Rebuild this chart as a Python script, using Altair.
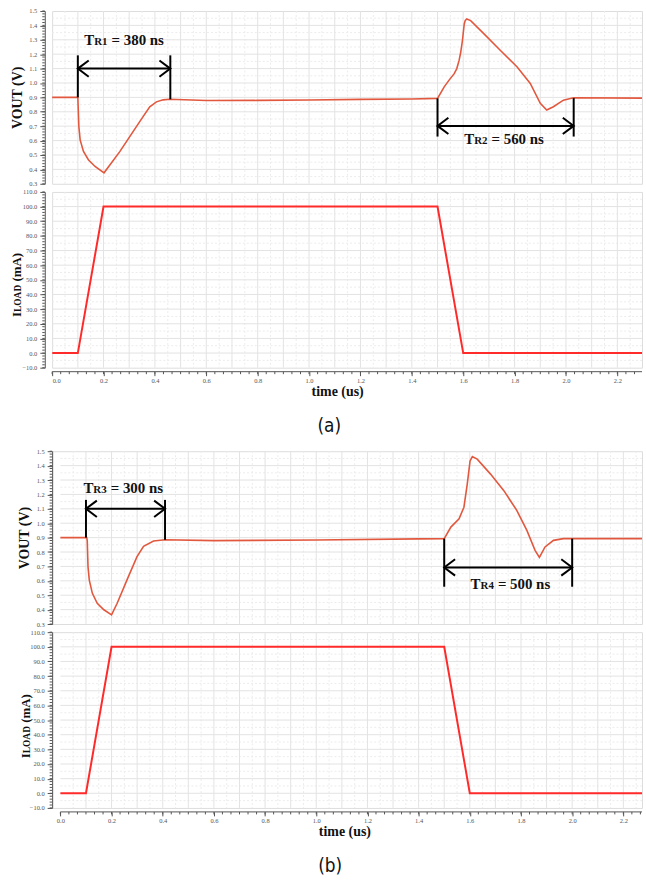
import altair as alt
import pandas as pd
import numpy as np

SERIF = "Liberation Serif"
VCOL = "#e2583e"
ICOL = "#ff2b2b"

# ---------------- data: (a) ----------------
va_t = [0.0, 0.1, 0.104, 0.109, 0.122, 0.141, 0.167, 0.202, 0.264, 0.315, 0.354, 0.380, 0.406,
        0.432, 0.457, 0.6, 0.8, 1.0, 1.2, 1.4, 1.5, 1.526, 1.545, 1.565, 1.575, 1.584, 1.590,
        1.597, 1.604, 1.608, 1.614, 1.629, 1.681, 1.745, 1.810, 1.861, 1.900, 1.925, 1.951,
        1.990, 2.029, 2.296]
va_v = [0.9, 0.9, 0.697, 0.605, 0.525, 0.467, 0.42, 0.376, 0.525, 0.662, 0.766, 0.835, 0.869,
        0.883, 0.887, 0.878, 0.879, 0.882, 0.886, 0.889, 0.893, 0.973, 1.02, 1.065, 1.10, 1.157, 1.21,
        1.295, 1.41, 1.435, 1.445, 1.433, 1.341, 1.226, 1.111, 0.997, 0.859, 0.812, 0.835,
        0.881, 0.897, 0.895]

# ---------------- data: (b) ----------------
vb_t = [0.0, 0.103, 0.105, 0.108, 0.113, 0.125, 0.144, 0.170, 0.200, 0.222, 0.260, 0.299, 0.325,
        0.364, 0.409, 0.6, 1.0, 1.4, 1.5, 1.526, 1.558, 1.577, 1.590, 1.601, 1.610, 1.629, 1.681,
        1.733, 1.784, 1.823, 1.855, 1.872, 1.894, 1.927, 1.966, 2.273]
vb_v = [0.9, 0.9, 0.88, 0.697, 0.605, 0.513, 0.444, 0.399, 0.364, 0.444, 0.605, 0.766, 0.839,
        0.876, 0.885, 0.879, 0.883, 0.891, 0.893, 0.973, 1.031, 1.111, 1.272, 1.433, 1.463, 1.445, 1.341,
        1.226, 1.088, 0.950, 0.812, 0.762, 0.835, 0.881, 0.893, 0.893]

# load current (same in both)
i_t = [0.0, 0.1, 0.2, 1.5, 1.6, 2.3]
i_ma = [0.0, 0.0, 100.0, 100.0, 0.0, 0.0]

# annotations: bar times, bar bases, bar tip V, arrow V, text position
ann_a = {"t1": [0.1, 1.5], "t2": [0.46, 2.03], "v0a": [0.9, 0.893], "v0b": [0.887, 0.895],
         "vtip": [1.192, 0.628], "varr": [1.1, 0.702], "tt": [0.125, 1.604], "vt": [1.266, 0.576],
         "sub": ["R1", "R2"], "rest": ["= 380 ns", "= 560 ns"]}
ann_b = {"t1": [0.1, 1.5], "t2": [0.409, 2.0], "v0a": [0.9, 0.893], "v0b": [0.885, 0.893],
         "vtip": [1.162, 0.559], "varr": [1.1, 0.693], "tt": [0.09, 1.603], "vt": [1.212, 0.546],
         "sub": ["R3", "R4"], "rest": ["= 300 ns", "= 500 ns"]}

v_ticks = [0.3, 0.4, 0.5, 0.6, 0.7, 0.8, 0.9, 1.0, 1.1, 1.2, 1.3, 1.4, 1.5]
i_ticks = [-10, 0, 10, 20, 30, 40, 50, 60, 70, 80, 90, 100, 110]
t_ticks = [0.0, 0.2, 0.4, 0.6, 0.8, 1.0, 1.2, 1.4, 1.6, 1.8, 2.0, 2.2]

AX = dict(labelFont=SERIF, labelFontSize=6.5, labelColor="#555", domainColor="#555",
          tickColor="#555", grid=False, titleFont=SERIF, titleFontSize=14,
          titleFontWeight="bold", titleColor="#111")


def grid_layers(xmax, X, Y, ymin, ymax, ystep):
    gx = pd.DataFrame({"t": np.round(np.arange(0.1, xmax, 0.1), 3)})
    gxm = pd.DataFrame({"t": np.round(np.arange(0.05, xmax, 0.1), 3)})
    gy = pd.DataFrame({"v": np.round(np.arange(ymin + ystep, ymax, ystep), 3)})
    gym = pd.DataFrame({"v": np.round(np.arange(ymin + ystep / 2, ymax, ystep), 3)})
    for g in (gy, gym):
        g["a"] = 0.0
        g["b"] = xmax
    return [
        alt.Chart(gxm).mark_rule(color="#ececec", strokeWidth=1, strokeDash=[2, 2]).encode(x=X("t:Q")),
        alt.Chart(gym).mark_rule(color="#ececec", strokeWidth=1, strokeDash=[2, 2]).encode(
            y=Y("v:Q"), x=X("a:Q"), x2="b:Q"),
        alt.Chart(gx).mark_rule(color="#e3e3e3", strokeWidth=1).encode(x=X("t:Q")),
        alt.Chart(gy).mark_rule(color="#e3e3e3", strokeWidth=1).encode(
            y=Y("v:Q"), x=X("a:Q"), x2="b:Q"),
    ]


def minor_y(Y, ymin, ymax, step, off):
    d = pd.DataFrame({"v": np.round(np.arange(ymin, ymax + 1e-9, step), 3)})
    return alt.Chart(d).mark_rule(color="#555", strokeWidth=1).encode(
        y=Y("v:Q"), x=alt.value(-off - 2.5), x2=alt.value(-off))


def vout_panel(t, v, ann, W, xmin, xmax, off, title_x):
    H = 174
    xs = alt.Scale(domain=[xmin, xmax], nice=False, zero=False)
    ys = alt.Scale(domain=[0.3, 1.5], nice=False, zero=False)
    yax = alt.Axis(values=v_ticks, format=".1f", offset=off, title="VOUT (V)", titleX=title_x,
                   titleY=H / 2, titleBaseline="middle", titleAngle=270, labelPadding=3,
                   tickSize=5, **AX)
    X = lambda f: alt.X(f, scale=xs, axis=None)
    Y = lambda f: alt.Y(f, scale=ys, axis=yax)
    df = pd.DataFrame({"t": t, "v": v})
    a = pd.DataFrame(ann)
    line = alt.Chart(df).mark_line(color=VCOL, strokeWidth=1.6).encode(x=X("t:Q"), y=Y("v:Q"))
    barL = alt.Chart(a).mark_rule(color="black", strokeWidth=2).encode(
        x=X("t1:Q"), y=Y("v0a:Q"), y2="vtip:Q")
    barR = alt.Chart(a).mark_rule(color="black", strokeWidth=2).encode(
        x=X("t2:Q"), y=Y("v0b:Q"), y2="vtip:Q")
    arr = alt.Chart(a).mark_rule(color="black", strokeWidth=2).encode(
        x=X("t1:Q"), x2="t2:Q", y=Y("varr:Q"))
    headL = alt.Chart(a).mark_point(shape="M1,-0.75L0,0L1,0.75", filled=False, stroke="black",
                                    strokeWidth=2, size=480, opacity=1).encode(
        x=X("t1:Q"), y=Y("varr:Q"))
    headR = alt.Chart(a).mark_point(shape="M-1,-0.75L0,0L-1,0.75", filled=False, stroke="black",
                                    strokeWidth=2, size=480, opacity=1).encode(
        x=X("t2:Q"), y=Y("varr:Q"))
    txt_kw = dict(font=SERIF, fontWeight="bold", align="left", baseline="alphabetic", color="#111")
    tT = alt.Chart(a).mark_text(fontSize=15, text="T", **txt_kw).encode(
        x=X("tt:Q"), y=Y("vt:Q"))
    tS = alt.Chart(a).mark_text(fontSize=11, dx=10, **txt_kw).encode(
        x=X("tt:Q"), y=Y("vt:Q"), text="sub:N")
    tR = alt.Chart(a).mark_text(fontSize=15, dx=27.5, **txt_kw).encode(
        x=X("tt:Q"), y=Y("vt:Q"), text="rest:N")
    layers = grid_layers(xmax, X, Y, 0.3, 1.5, 0.1) + [
        minor_y(Y, 0.3, 1.5, 0.02, off), line, barL, barR, arr, headL, headR, tT, tS, tR]
    return alt.layer(*layers).properties(width=W, height=H)


def iload_panel(W, xmin, xmax, off, tx, base_x, base_y, label, lab_x):
    H = 177
    xs = alt.Scale(domain=[xmin, xmax], nice=False, zero=False)
    ys = alt.Scale(domain=[-10, 110], nice=False, zero=False)
    xax = alt.Axis(values=t_ticks, format=".1f", offset=4, title="time (us)", titleX=tx, titleY=20,
                   titleBaseline="middle", labelPadding=2, tickSize=4, domain=False, **AX)
    yax = alt.Axis(values=i_ticks, format=".1f", offset=off, title=None, labelPadding=3,
                   tickSize=5, **AX)
    X = lambda f: alt.X(f, scale=xs, axis=xax)
    Y = lambda f: alt.Y(f, scale=ys, axis=yax)
    df = pd.DataFrame({"t": i_t, "i": i_ma})
    line = alt.Chart(df).mark_line(color=ICOL, strokeWidth=2, clip=True).encode(
        x=X("t:Q"), y=Y("i:Q"))
    mx = pd.DataFrame({"t": np.round(np.arange(0, xmax, 1 / 30), 4)})
    minx = alt.Chart(mx).mark_rule(color="#555", strokeWidth=1).encode(
        x=X("t:Q"), y=alt.value(H + 4), y2=alt.value(H + 6.5))
    dom = alt.Chart(pd.DataFrame({"a": [0.0], "b": [xmax]})).mark_rule(
        color="#555", strokeWidth=1).encode(x=X("a:Q"), x2="b:Q", y=alt.value(H + 4))
    miny = minor_y(Y, -10, 110, 2, off)
    tk = dict(font=SERIF, fontWeight="bold", align="left", baseline="alphabetic", angle=270,
              color="#111")
    w_i = 0.389 * 13
    w_load = 2.889 * 9.5
    w_sp = 0.25 * 13
    lab = pd.DataFrame({"k": [0]})
    t1 = alt.Chart(lab).mark_text(fontSize=13, text="I", **tk).encode(
        x=alt.value(base_x), y=alt.value(base_y))
    t2 = alt.Chart(lab).mark_text(fontSize=9.5, text="LOAD", **tk).encode(
        x=alt.value(base_x), y=alt.value(base_y - w_i))
    t3 = alt.Chart(lab).mark_text(fontSize=13, text="(mA)", **tk).encode(
        x=alt.value(base_x), y=alt.value(base_y - w_i - w_load - w_sp))
    cap = alt.Chart(lab).mark_text(
        fontSize=19, text=label, font="Liberation Sans Narrow, DejaVu Sans Condensed, Open Sans",
        align="center", baseline="middle", color="#111").encode(
        x=alt.value(lab_x), y=alt.value(H + 59))
    layers = grid_layers(xmax, X, Y, -10, 110, 10) + [miny, minx, dom, line, t1, t2, t3, cap]
    return alt.layer(*layers).properties(width=W, height=H)


# (a): plot starts at t=0, y-axis offset to the left
blockA = alt.vconcat(
    vout_panel(va_t, va_v, ann_a, 594, 0.0, 2.296, 7.4, -27.6),
    iload_panel(594, 0.0, 2.296, 7.4, 287, -31.7, 126, "(a)", 279),
    spacing=8.2, bounds="flush")
# (b): the time origin sits 8 px inside the plot, the y-axis on the plot edge
blockB = alt.vconcat(
    vout_panel(vb_t, vb_v, ann_b, 594, -0.0322, 2.273, 0, -28),
    iload_panel(594, -0.0322, 2.273, 0, 294.3, -22.2, 127, "(b)", 280),
    spacing=8.2, bounds="flush")

chart = alt.vconcat(blockA, blockB, spacing=10.3).properties(
    padding={"left": 9.5, "top": 4, "right": 0, "bottom": 0}
).configure_view(stroke=None).configure(background="white")

chart.save("out.html", embed_options={"renderer": "svg", "actions": False})
